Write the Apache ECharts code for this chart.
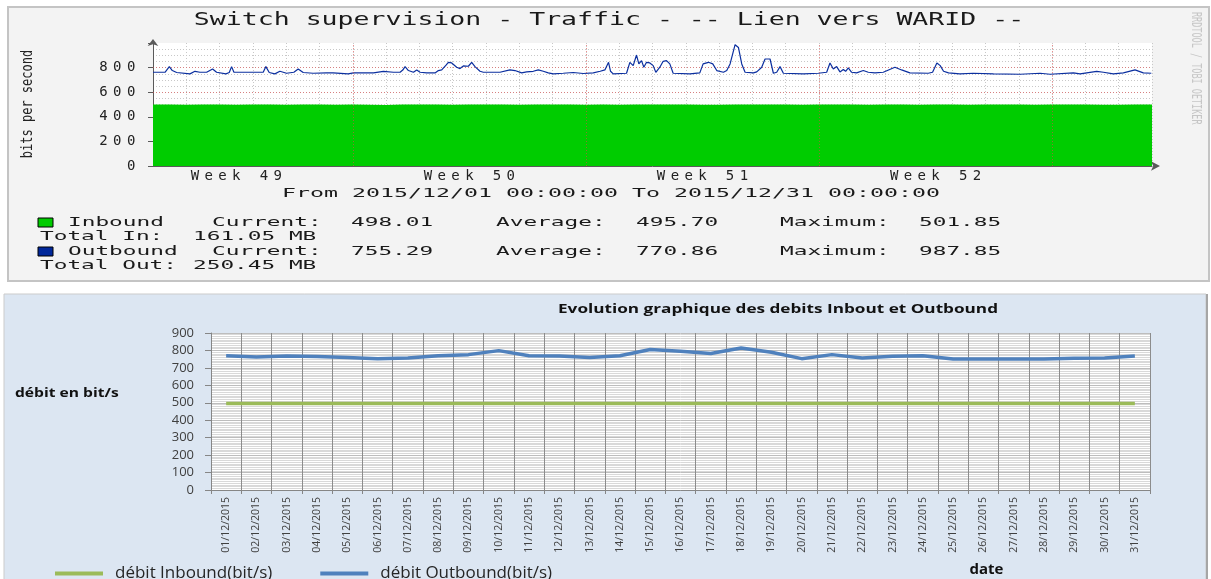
<!DOCTYPE html>
<html>
<head>
<meta charset="utf-8">
<title>Switch supervision - Traffic - Lien vers WARID</title>
<script src="https://cdn.jsdelivr.net/npm/echarts@6/dist/echarts.min.js"></script>
<style>
  html, body { margin: 0; padding: 0; background: #fff; }
  #main { width: 1211px; height: 579px; }
</style>
</head>
<body>
<div id="main"></div>
<script>
// ---- graphe RRD (haut) ----
var rrdDays = 30;                     // 2015/12/01 -> 2015/12/31
var weekStarts = [6, 13, 20, 27];     // lundis (lignes rouges)
var weekCenters = [2.5, 9.5, 16.5, 23.5];
var weekLabels = ['Week 49', 'Week 50', 'Week 51', 'Week 52'];
var rrdYTicks = [0, 200, 400, 600, 800];

// inbound, un point par demi-journee
var rrdInStep = 0.5;
var rrdInbound = [499, 500, 498, 500, 499, 497, 500, 499, 498, 500, 499, 498, 500, 498, 496, 499,
  500, 499, 498, 500, 499, 500, 498, 499, 500, 499, 497, 500, 498, 499, 500, 499, 500, 498, 497,
  499, 500, 499, 500, 498, 499, 500, 499, 498, 500, 499, 497, 499, 500, 498, 499, 500, 499, 498,
  500, 499, 500, 498, 497, 499, 500];

// outbound [jour, bit/s]
var rrdOutbound = [[0.00,762],[0.36,762],[0.49,808],[0.58,776],[0.71,760],[1.11,749],[1.26,770],
  [1.41,762],[1.61,762],[1.79,789],[1.91,762],[2.19,749],[2.29,760],[2.36,808],[2.43,762],[2.61,762],
  [3.31,762],[3.39,808],[3.49,760],[3.66,749],[3.81,770],[4.01,754],[4.23,762],[4.36,789],[4.51,760],
  [4.81,754],[5.21,757],[5.41,757],[5.86,749],[6.02,757],[6.62,757],[6.92,770],[7.22,762],[7.42,762],
  [7.50,780],[7.57,808],[7.67,776],[7.82,762],[7.92,781],[8.02,762],[8.22,757],[8.47,757],[8.57,776],
  [8.67,781],[8.80,820],[8.87,843],[8.97,838],[9.12,803],[9.22,792],[9.32,814],[9.47,811],[9.57,843],
  [9.67,808],[9.82,770],[9.92,762],[10.42,762],[10.72,781],[10.87,776],[11.07,757],[11.22,765],
  [11.42,770],[11.57,781],[11.72,770],[11.87,757],[12.02,749],[12.32,754],[12.62,760],[12.92,752],
  [13.22,757],[13.43,770],[13.57,781],[13.68,843],[13.74,770],[13.82,749],[14.22,754],[14.32,843],
  [14.42,816],[14.52,902],[14.59,830],[14.67,857],[14.74,803],[14.82,843],[14.92,838],[15.02,816],
  [15.10,762],[15.22,803],[15.32,851],[15.42,857],[15.52,830],[15.62,754],[16.12,749],[16.42,757],
  [16.52,830],[16.68,843],[16.81,830],[16.93,776],[17.13,762],[17.23,776],[17.33,830],[17.48,986],
  [17.58,964],[17.68,830],[17.78,762],[18.03,757],[18.13,765],[18.28,803],[18.38,870],[18.53,870],
  [18.63,754],[18.73,762],[18.83,808],[18.93,754],[19.53,749],[19.98,754],[20.23,762],[20.33,838],
  [20.43,789],[20.53,808],[20.63,765],[20.73,785],[20.80,770],[20.88,797],[20.98,762],[21.13,757],
  [21.33,776],[21.48,762],[21.68,757],[21.93,762],[22.28,803],[22.48,781],[22.73,757],[23.28,754],
  [23.41,762],[23.54,838],[23.64,816],[23.74,770],[23.89,757],[24.23,749],[24.63,754],[25.24,749],
  [26.04,746],[26.64,754],[26.94,746],[27.64,757],[27.84,749],[28.34,770],[28.54,762],[28.84,749],
  [29.14,757],[29.49,781],[29.74,757],[29.98,754]];

var inStats = ['498.01', '495.70', '501.85'];
var outStats = ['755.29', '770.86', '987.85'];
var totalIn = '161.05 MB';
var totalOut = '250.45 MB';

// ---- graphique Excel (bas) ----
var dates = ['01/12/2015', '02/12/2015', '03/12/2015', '04/12/2015', '05/12/2015', '06/12/2015',
  '07/12/2015', '08/12/2015', '09/12/2015', '10/12/2015', '11/12/2015', '12/12/2015', '13/12/2015',
  '14/12/2015', '15/12/2015', '16/12/2015', '17/12/2015', '18/12/2015', '19/12/2015', '20/12/2015',
  '21/12/2015', '22/12/2015', '23/12/2015', '24/12/2015', '25/12/2015', '26/12/2015', '27/12/2015',
  '28/12/2015', '29/12/2015', '30/12/2015', '31/12/2015'];
var inbound = [496, 496, 496, 496, 496, 496, 496, 496, 496, 496, 496, 496, 496, 496, 496, 496,
  496, 496, 496, 496, 496, 496, 496, 496, 496, 496, 496, 496, 496, 496, 496];
var outbound = [769, 763, 768, 765, 759, 753, 757, 770, 776, 799, 770, 768, 759, 770, 805, 795,
  782, 814, 790, 753, 776, 757, 767, 770, 751, 751, 751, 751, 755, 757, 768];


var MONO = '"DejaVu Sans Mono", "Liberation Mono", monospace';
var SANS = '"Open Sans", "Noto Sans", sans-serif';

//espacement a la RRD : un caractere par case
function spread(s) {
    return s.split('').map(function (c) {
        return '{m|' + (c === ' ' ? '\u00a0' : c) + '}';
    }).join('');
}
var monoRich = {m: {fontFamily: MONO, fontSize: 14, width: 13.8, align: 'center', color: '#222'}};

//texte etire horizontalement (capture d'origine etiree)
function txt(text, x, y, size, sx, extra) {
    var el = {
        type: 'text', x: x, y: y, scaleX: sx, silent: true,
        style: {text: text, fontFamily: MONO, fontSize: size, fill: '#1a1a1a',
            textAlign: 'left', textVerticalAlign: 'middle'}
    };
    if (extra) {
        for (var k in extra) {
            if (k === 'style') { for (var j in extra.style) el.style[j] = extra.style[j]; }
            else el[k] = extra[k];
        }
    }
    return el;
}
function square(x, y, color) {
    return {type: 'rect', silent: true, shape: {x: x, y: y, width: 15, height: 9},
        style: {fill: color, stroke: '#000', lineWidth: 1}};
}

var graphics = [
    //cadre RRD
    {type: 'rect', z: -10, silent: true, shape: {x: 8, y: 7, width: 1201, height: 274},
        style: {fill: '#f3f3f3', stroke: '#c4c4c4', lineWidth: 2}},
    //cadre Excel
    {type: 'rect', z: -10, silent: true, shape: {x: 4, y: 294, width: 1202, height: 292},
        style: {fill: '#dce6f2', stroke: '#cbcbcb', lineWidth: 1}},
    {type: 'line', z: -9, silent: true, shape: {x1: 1207, y1: 294, x2: 1207, y2: 579},
        style: {stroke: '#a6a6a6', lineWidth: 2}},

    txt('Switch supervision - Traffic - -- Lien vers WARID --', 609, 21, 17, 1.56,
        {style: {textAlign: 'center'}}),
    txt('bits per second', 28, 104, 12, 1, {rotation: Math.PI / 2, scaleY: 1.25, scaleX: 1,
        style: {textAlign: 'center', fill: '#222'}}),
    txt('RRDTOOL / TOBI OETIKER', 1196, 12, 8.5, 1, {rotation: -Math.PI / 2, scaleY: 1.6, scaleX: 1,
        style: {fill: '#c6c6c6'}}),
    txt('From 2015/12/01 00:00:00 To 2015/12/31 00:00:00', 611, 194, 12.5, 1.86,
        {style: {textAlign: 'center'}}),

    square(38, 218, '#00cc00'),
    txt('Inbound', 68, 222.5, 12.5, 1.82),
    txt('Current:', 212, 222.5, 12.5, 1.82),
    txt(inStats[0], 351, 222.5, 12.5, 1.82),
    txt('Average:', 496, 222.5, 12.5, 1.82),
    txt(inStats[1], 636, 222.5, 12.5, 1.82),
    txt('Maximum:', 780, 222.5, 12.5, 1.82),
    txt(inStats[2], 919, 222.5, 12.5, 1.82),
    txt('Total In:', 40, 237, 12.5, 1.82),
    txt(totalIn, 193, 237, 12.5, 1.82),

    square(38, 247, '#00279a'),
    txt('Outbound', 68, 251.5, 12.5, 1.82),
    txt('Current:', 212, 251.5, 12.5, 1.82),
    txt(outStats[0], 351, 251.5, 12.5, 1.82),
    txt('Average:', 496, 251.5, 12.5, 1.82),
    txt(outStats[1], 636, 251.5, 12.5, 1.82),
    txt('Maximum:', 780, 251.5, 12.5, 1.82),
    txt(outStats[2], 919, 251.5, 12.5, 1.82),
    txt('Total Out:', 40, 266, 12.5, 1.82),
    txt(totalOut, 193, 266, 12.5, 1.82),

    txt('Evolution graphique des debits Inbout et Outbound', 778, 309, 13, 1.32,
        {style: {textAlign: 'center', fontFamily: SANS, fontWeight: 'bold', fill: '#111'}}),
    //titre de l'axe vertical (Excel le place au dessus du milieu)
    txt('débit en bit/s', 15, 393, 13, 1.2,
        {style: {fontFamily: SANS, fontWeight: 'bold', fill: '#111'}})
];

var chart = echarts.init(document.getElementById('main'));

chart.setOption({
    animation: false,
    backgroundColor: '#ffffff',
    graphic: graphics,
    grid: [
        {left: 153, top: 43, width: 999, height: 123, show: true, backgroundColor: '#ffffff',
            borderWidth: 0, outerBoundsMode: 'none'},
        {left: 211, top: 333, width: 939, height: 157, show: true, backgroundColor: '#ffffff',
            borderWidth: 0, outerBoundsMode: 'none'}
    ],
    legend: {
        data: ['débit Inbound(bit/s)', 'débit Outbound(bit/s)'],
        left: 55, top: 565, padding: 0,
        icon: 'rect', itemWidth: 48, itemHeight: 4, itemGap: 48,
        textStyle: {fontFamily: SANS, fontSize: 17, color: '#262626', padding: [0, 0, 0, 7]}
    },
    xAxis: [
        {   //jours (grille grise)
            type: 'value', gridIndex: 0, position: 'bottom', min: 0, max: rrdDays, interval: 1,
            axisLine: {show: true, lineStyle: {color: '#5a5a5a'}, symbol: ['none', 'arrow'],
                symbolSize: [7, 9], symbolOffset: [0, 8]},
            axisTick: {show: false}, axisLabel: {show: false},
            splitLine: {show: true, showMinLine: false, lineStyle: {color: '#c8c8c8', type: [1, 2]}}
        },
        {   //semaines
            type: 'value', gridIndex: 0, position: 'bottom', min: 0, max: rrdDays,
            axisLine: {show: false}, axisTick: {show: false}, splitLine: {show: false},
            axisLabel: {
                customValues: weekCenters, margin: 3, rich: monoRich,
                formatter: function (v) {
                    var i = weekCenters.indexOf(v);
                    return i < 0 ? '' : spread(weekLabels[i]);
                }
            }
        },
        {
            type: 'category', gridIndex: 1, data: dates, boundaryGap: true,
            axisLine: {show: true, lineStyle: {color: '#868686'}},
            axisTick: {show: true, interval: 0, length: 4, lineStyle: {color: '#868686'}},
            splitLine: {show: true, interval: 0, lineStyle: {color: '#8c8c8c', width: 1}},
            axisLabel: {interval: 0, rotate: 90, margin: 7, fontFamily: SANS, fontSize: 10.5,
                color: '#404040'},
            name: 'date', nameLocation: 'middle', nameGap: 72,
            nameTextStyle: {fontFamily: SANS, fontSize: 15, fontWeight: 'bold', color: '#111',
                padding: [0, 0, 0, 612]}
        }
    ],
    yAxis: [
        {   //grille grise tous les 50
            type: 'value', gridIndex: 0, position: 'left', min: 0, max: 1000, interval: 50,
            axisLine: {show: true, lineStyle: {color: '#5a5a5a'}, symbol: ['none', 'arrow'],
                symbolSize: [8, 7], symbolOffset: [0, 4]},
            axisTick: {show: false}, axisLabel: {show: false},
            splitLine: {show: true, showMinLine: false, showMaxLine: false,
                lineStyle: {color: '#c8c8c8', type: [1, 2]}}
        },
        {   //grille rouge tous les 200, au dessus des aires
            type: 'value', gridIndex: 0, position: 'left', min: 0, max: 1000, interval: 200, z: 3,
            axisLine: {show: false},
            axisTick: {show: true, length: 5, lineStyle: {color: '#5a5a5a'}},
            axisLabel: {
                margin: 15, rich: monoRich,
                formatter: function (v) {
                    return rrdYTicks.indexOf(v) < 0 ? '' : spread(String(v));
                }
            },
            splitLine: {show: true, showMinLine: false, showMaxLine: false,
                lineStyle: {color: 'rgba(225,70,70,0.55)', type: [1, 2]}}
        },
        {
            type: 'value', gridIndex: 1, min: 0, max: 900, interval: 100,
            axisLine: {show: true, lineStyle: {color: '#868686'}},
            axisTick: {show: true, length: 6, lineStyle: {color: '#868686'}},
            axisLabel: {margin: 17, fontFamily: SANS, fontSize: 13, color: '#404040'},
            splitLine: {show: true, lineStyle: {color: '#bdbdbd'}},
            minorTick: {show: false, splitNumber: 10},
            minorSplitLine: {show: true, lineStyle: {color: '#d9d9d9'}}
        }
    ],
    series: [
        {
            name: 'Inbound', type: 'line', xAxisIndex: 0, yAxisIndex: 0,
            data: rrdInbound.map(function (v, i) { return [i * rrdInStep, v]; }),
            symbol: 'none', lineStyle: {width: 0}, areaStyle: {color: '#00cc00', opacity: 1},
            silent: true
        },
        {
            name: 'Outbound', type: 'line', xAxisIndex: 0, yAxisIndex: 0, data: rrdOutbound,
            symbol: 'none', lineStyle: {color: '#0b2f9f', width: 1.2}, silent: true,
            markLine: {
                silent: true, symbol: 'none', label: {show: false},
                lineStyle: {color: 'rgba(225,70,70,0.6)', type: [1, 2], width: 1},
                data: weekStarts.map(function (d) { return {xAxis: d}; })
            }
        },
        {
            name: 'débit Inbound(bit/s)', type: 'line', xAxisIndex: 2, yAxisIndex: 2, data: inbound,
            symbol: 'none', itemStyle: {color: '#9bbb59'}, lineStyle: {color: '#9bbb59', width: 3.5}
        },
        {
            name: 'débit Outbound(bit/s)', type: 'line', xAxisIndex: 2, yAxisIndex: 2, data: outbound,
            symbol: 'none', itemStyle: {color: '#4f81bd'}, lineStyle: {color: '#4f81bd', width: 3.5}
        }
    ]
});
</script>
</body>
</html>
